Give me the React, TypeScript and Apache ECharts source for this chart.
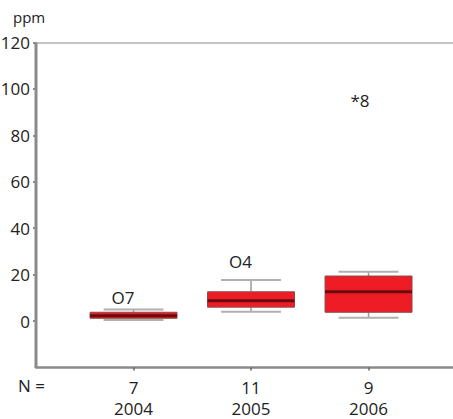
import React, { useEffect, useRef } from "react";
import * as echarts from "echarts";

const years = ["2004", "2005", "2006"];
const nValues = [7, 11, 9];
const xPositions = [1, 2, 3];
// [min, q1, median, q3, max]
const boxStats = [
  [0.5, 1.2, 2.3, 3.8, 5.0],
  [4.0, 6.0, 8.8, 12.6, 17.7],
  [1.4, 3.8, 12.6, 19.4, 21.2],
];
// outliers: [category index, value]
const outlierCategory = [0, 1, 2];
const outlierValues = [10.3, 25.6, 95.0];
const outlierLabels = ["O7", "O4", "*8"];
const yTicks = [0, 20, 40, 60, 80, 100, 120];
const yMax = 120;

const FONT = "'Open Sans', 'Noto Sans', sans-serif";

export default function App() {
  const ref = useRef<HTMLDivElement>(null);
  useEffect(() => {
    if (!ref.current) return;
    const chart = echarts.init(ref.current, undefined, { renderer: "svg" });
    const boxData = boxStats.map((s, i) => [xPositions[i], ...s]);
    const outlierData = outlierValues.map((v, i) => [xPositions[outlierCategory[i]], v]);
    chart.setOption({
      animation: false,
      textStyle: { fontFamily: FONT },
      grid: { left: 36, right: -6, top: 42.5, bottom: 51.5, outerBoundsMode: "none", containLabel: false },
      xAxis: {
        type: "value",
        min: 0.17,
        max: 3.77,
        position: "bottom",
        axisLine: { show: true, onZero: false, lineStyle: { color: "#8a8a8a", width: 2.5 } },
        axisTick: { show: true, length: 3, customValues: xPositions, lineStyle: { color: "#666", width: 1.5 } },
        axisLabel: {
          customValues: xPositions,
          formatter: (v: number) => {
            const i = xPositions.indexOf(Math.round(v));
            return `${nValues[i]}\n${years[i]}`;
          },
          fontSize: 17,
          lineHeight: 21,
          margin: 9,
          color: "#222",
          fontFamily: FONT,
        },
        splitLine: { show: false },
      },
      yAxis: {
        type: "value",
        position: "left",
        min: -20,
        max: yMax,
        axisLine: { show: false },
        axisTick: { show: true, length: 3, customValues: yTicks, lineStyle: { color: "#666", width: 1.5 } },
        axisLabel: {
          customValues: yTicks,
          fontSize: 17,
          margin: 6,
          color: "#222",
          fontFamily: FONT,
        },
        splitLine: { show: false },
      },
      graphic: [
        {
          type: "line",
          shape: { x1: 36, y1: 42.5, x2: 36, y2: 368 },
          style: { stroke: "#8a8a8a", lineWidth: 3 },
          z: 10,
        },
        {
          type: "text",
          left: 13,
          top: 9,
          style: { text: "ppm", fontSize: 15, fill: "#222", fontFamily: FONT },
        },
        {
          type: "text",
          left: 18,
          top: 377,
          style: { text: "N =", fontSize: 17, fill: "#222", fontFamily: FONT },
        },
      ],
      series: [
        {
          type: "custom",
          data: boxData,
          markLine: {
            silent: true,
            symbol: "none",
            label: { show: false },
            lineStyle: { color: "#b0b0b0", width: 1.5, type: "solid" },
            data: [{ yAxis: yMax }],
          },
          renderItem: (params: any, api: any) => {
            const x = api.value(0);
            const mn = api.value(1);
            const q1 = api.value(2);
            const md = api.value(3);
            const q3 = api.value(4);
            const mx = api.value(5);
            const bw = 0.37;
            const cw = 0.255;
            const pMin = api.coord([x, mn]);
            const pMax = api.coord([x, mx]);
            const pQ1 = api.coord([x, q1]);
            const pQ3 = api.coord([x, q3]);
            const pMd = api.coord([x, md]);
            const bl = api.coord([x - bw, q3]);
            const br = api.coord([x + bw, q1]);
            const cl = api.coord([x - cw, mn])[0];
            const cr = api.coord([x + cw, mn])[0];
            const whisker = { stroke: "#9a9a9a", lineWidth: 1.5 };
            const cap = { stroke: "#b0b0b0", lineWidth: 2 };
            return {
              type: "group",
              children: [
                { type: "line", shape: { x1: pMax[0], y1: pMax[1], x2: pQ3[0], y2: pQ3[1] }, style: whisker },
                { type: "line", shape: { x1: pMin[0], y1: pMin[1], x2: pQ1[0], y2: pQ1[1] }, style: whisker },
                { type: "line", shape: { x1: cl, y1: pMax[1], x2: cr, y2: pMax[1] }, style: cap },
                { type: "line", shape: { x1: cl, y1: pMin[1], x2: cr, y2: pMin[1] }, style: cap },
                {
                  type: "rect",
                  shape: { x: bl[0], y: bl[1], width: br[0] - bl[0], height: br[1] - bl[1] },
                  style: { fill: "#ee1c25", stroke: "#8a4a4a", lineWidth: 1 },
                },
                {
                  type: "line",
                  shape: { x1: bl[0], y1: pMd[1], x2: br[0], y2: pMd[1] },
                  style: { stroke: "#6a0c0e", lineWidth: 3 },
                },
              ],
            };
          },
        },
        {
          type: "custom",
          data: outlierData,
          renderItem: (params: any, api: any) => {
            const p = api.coord([api.value(0), api.value(1)]);
            return {
              type: "text",
              x: p[0] + 1,
              y: p[1],
              style: {
                text: outlierLabels[params.dataIndex],
                fontSize: 17,
                fill: "#222",
                fontFamily: FONT,
                align: "right",
                verticalAlign: "middle",
              },
            };
          },
        },
      ],
    });
    return () => chart.dispose();
  }, []);
  return <div ref={ref} style={{ width: 453, height: 419, position: "absolute", left: 0, top: 0 }} />;
}
